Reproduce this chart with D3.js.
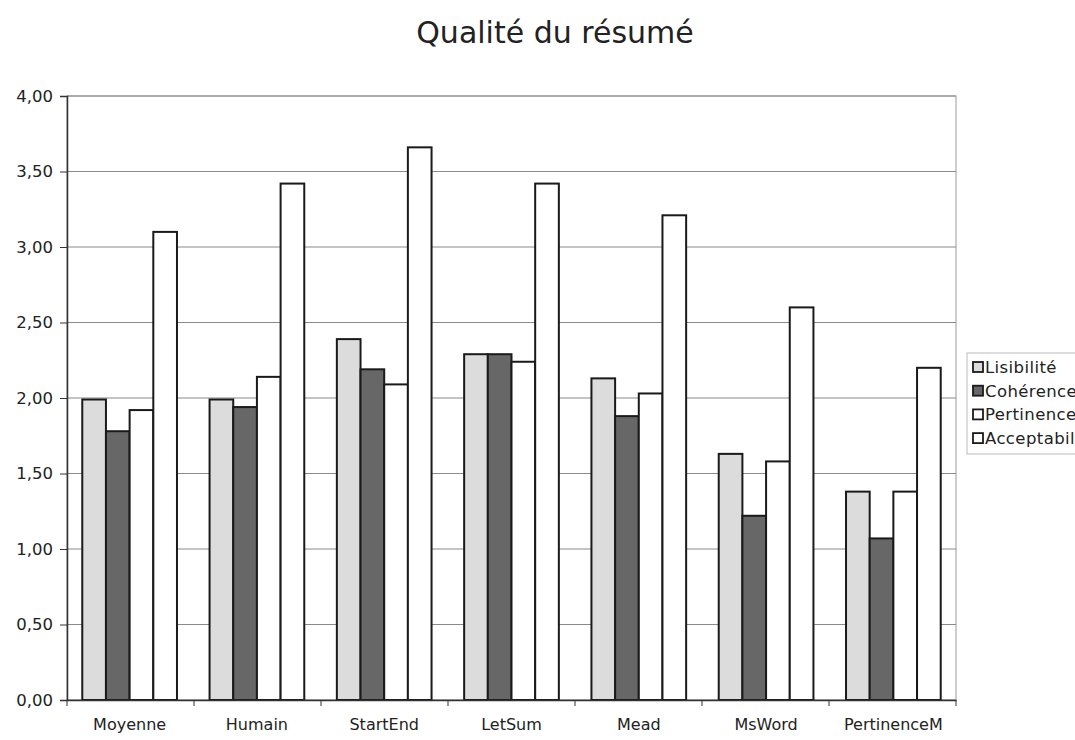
<!DOCTYPE html>
<html>
<head>
<meta charset="utf-8">
<script src="https://cdn.jsdelivr.net/npm/d3@7"></script>
<style>
  body { margin: 0; background: #fff; }
  svg { display: block; }
  text { font-family: "DejaVu Sans", Verdana, sans-serif; fill: #222; }
</style>
</head>
<body>
<svg id="chart" width="1075" height="740"></svg>
<script>
// data
let categories = ["Moyenne", "Humain", "StartEnd", "LetSum", "Mead", "MsWord", "PertinenceM"];
let seriesNames = ["Lisibilité", "Cohérence", "Pertinence", "Acceptabilité"];
let lisibilite    = [1.99, 1.99, 2.39, 2.29, 2.13, 1.63, 1.38];
let coherence     = [1.78, 1.94, 2.19, 2.29, 1.88, 1.22, 1.07];
let pertinence    = [1.92, 2.14, 2.09, 2.24, 2.03, 1.58, 1.38];
let acceptabilite = [3.10, 3.42, 3.66, 3.42, 3.21, 2.60, 2.20];
let yTicks = [0, 0.5, 1, 1.5, 2, 2.5, 3, 3.5, 4];

let seriesValues = [lisibilite, coherence, pertinence, acceptabilite];
let fills = ["#dcdcdc", "#676767", "#ffffff", "#ffffff"];

let svg = d3.select("#chart");
let plotLeft = 67, plotRight = 956, plotTop = 96, plotBottom = 700;

let x = d3.scaleBand().domain(categories).range([plotLeft, plotRight]).paddingInner(0.256).paddingOuter(0.12);
let xs = d3.scaleBand().domain(seriesNames).range([0, x.bandwidth()]);
let y = d3.scaleLinear().domain([0, 4]).range([plotBottom, plotTop]);
let fmt = d => d.toFixed(2).replace(".", ",");

// title
svg.append("text")
    .attr("x", 555).attr("y", 43)
    .attr("text-anchor", "middle")
    .attr("font-size", 30)
    .text("Qualité du résumé");

// plot area border + grid
svg.append("rect")
    .attr("x", plotLeft).attr("y", plotTop)
    .attr("width", plotRight - plotLeft).attr("height", plotBottom - plotTop)
    .attr("fill", "#fff").attr("stroke", "#9a9a9a");

svg.append("g")
    .selectAll("line")
    .data(yTicks)
    .enter()
    .append("line")
    .attr("x1", plotLeft).attr("x2", plotRight)
    .attr("y1", d => y(d)).attr("y2", d => y(d))
    .attr("stroke", "#8a8a8a").attr("stroke-width", 1.2);

// bars
let rows = categories.map((c, i) => ({ cat: c, vals: seriesValues.map((s, j) => ({ name: seriesNames[j], v: s[i], j: j })) }));

svg.append("g")
    .selectAll("g")
    .data(rows)
    .enter()
    .append("g")
    .attr("transform", d => "translate(" + x(d.cat) + ",0)")
    .selectAll("rect")
    .data(d => d.vals)
    .enter()
    .append("rect")
    .attr("x", d => xs(d.name))
    .attr("y", d => y(d.v))
    .attr("width", xs.bandwidth())
    .attr("height", d => plotBottom - y(d.v))
    .attr("fill", d => fills[d.j])
    .attr("stroke", "#1a1a1a")
    .attr("stroke-width", 2);

// y axis
let yAxis = svg.append("g")
    .attr("transform", "translate(" + plotLeft + ",0)")
    .call(d3.axisLeft(y).tickValues(yTicks).tickFormat(fmt).tickSize(7).tickPadding(7));
yAxis.select(".domain").attr("stroke", "#333").attr("stroke-width", 1.5);
yAxis.selectAll(".tick line").attr("stroke", "#333");
yAxis.selectAll("text")
    .attr("font-size", 16.5)
    .attr("font-family", "DejaVu Sans, Verdana, sans-serif")
    .attr("fill", "#2a2a2a");

// x axis
let xAxis = svg.append("g")
    .attr("transform", "translate(0," + plotBottom + ")")
    .call(d3.axisBottom(x).tickSize(0).tickPadding(19));
xAxis.select(".domain").attr("stroke", "#333").attr("stroke-width", 1.5);
xAxis.selectAll("text")
    .attr("font-size", 16)
    .attr("font-family", "DejaVu Sans, Verdana, sans-serif")
    .attr("fill", "#222");

// x tick marks between categories
let bounds = d3.range(categories.length + 1).map(i => plotLeft + i * (plotRight - plotLeft) / categories.length);
svg.append("g")
    .selectAll("line")
    .data(bounds)
    .enter()
    .append("line")
    .attr("x1", d => d).attr("x2", d => d)
    .attr("y1", plotBottom).attr("y2", plotBottom + 6)
    .attr("stroke", "#333");

// legend (cut by the right edge, as in the original)
let lg = svg.append("g").attr("transform", "translate(967,353)");
lg.append("rect")
    .attr("width", 120).attr("height", 101)
    .attr("fill", "#fff").attr("stroke", "#bbb");
let items = lg.selectAll("g")
    .data(seriesNames)
    .enter()
    .append("g")
    .attr("transform", (d, i) => "translate(6," + (9 + i * 23.7) + ")");
items.append("rect")
    .attr("width", 10).attr("height", 10)
    .attr("fill", (d, i) => fills[i])
    .attr("stroke", "#1a1a1a").attr("stroke-width", 1.8);
items.append("text")
    .attr("x", 12).attr("y", 11)
    .attr("font-size", 16.5)
    .attr("letter-spacing", 0.4)
    .text(d => d);
</script>
</body>
</html>
